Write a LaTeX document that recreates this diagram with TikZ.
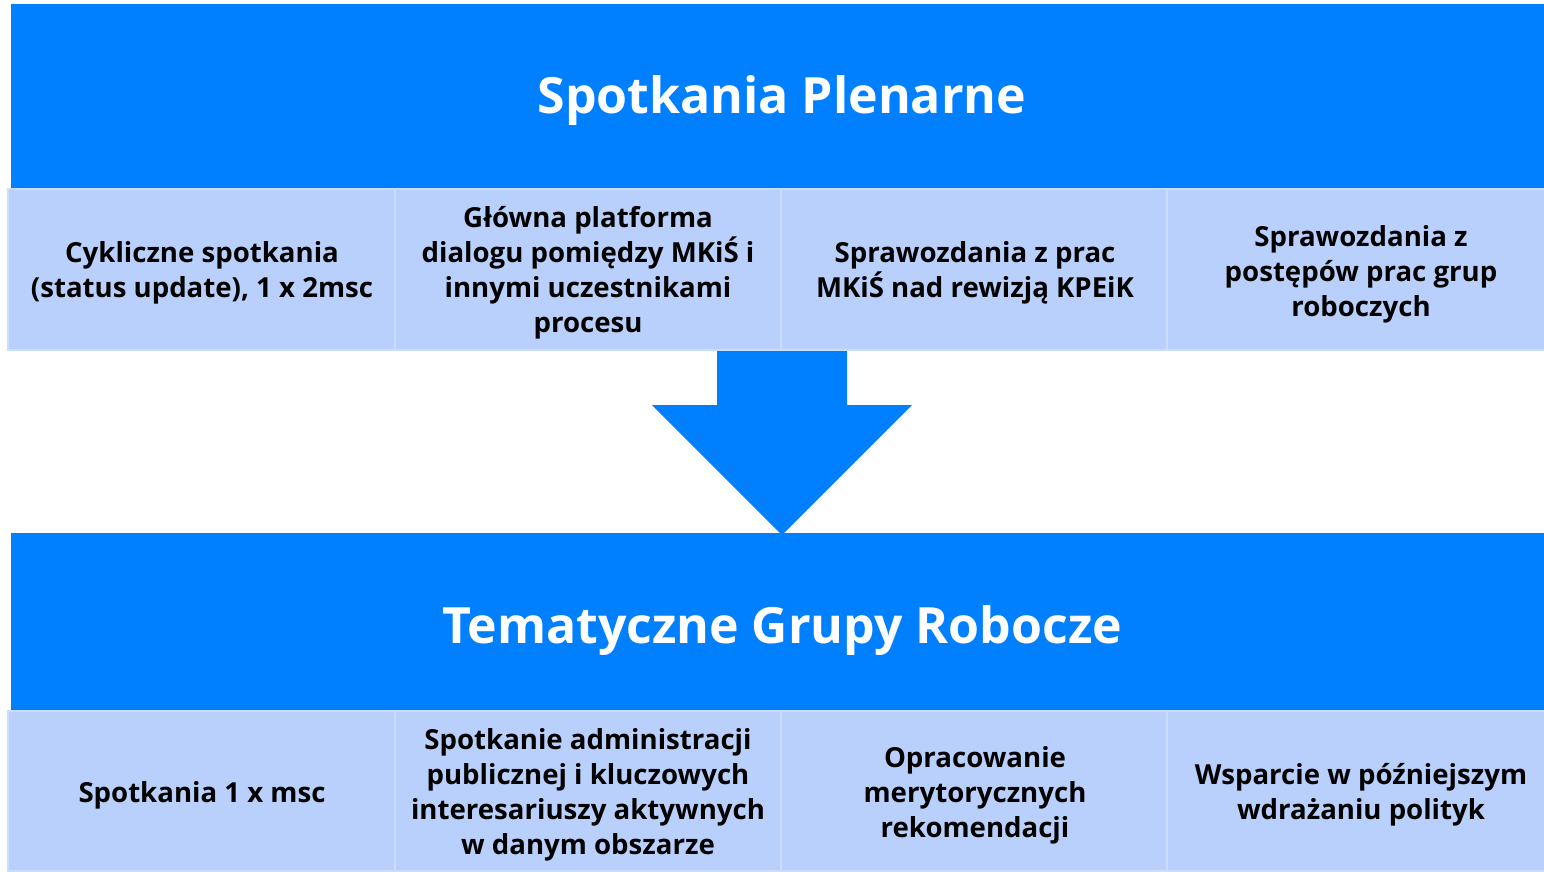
\documentclass[tikz,border=0pt]{standalone}
\usepackage{fontspec}
\setmainfont{Open Sans}
\definecolor{mainblue}{RGB}{0,128,255}
\definecolor{cellblue}{RGB}{184,208,251}
\definecolor{celledge}{RGB}{204,220,252}
\begin{document}
\begin{tikzpicture}[x=1pt,y=-1pt,
  banner/.style={fill=mainblue},
  cell/.style={fill=cellblue,draw=celledge,line width=2pt},
  celltext/.style={font=\fontsize{27.6}{35}\selectfont\bfseries,align=center,text=black,inner sep=0pt},
  titletext/.style={font=\fontsize{50}{60}\selectfont\bfseries,text=white,inner sep=0pt}]
\useasboundingbox (0,0) rectangle (1544,871);
% top banner
\fill[banner] (11,4) rectangle (1550,189);
\node[titletext] (t1) at (782,101) {Spotkania Plenarne};
% top cells
\draw[cell] (8,189) rectangle (395,350);
\draw[cell] (395,189) rectangle (781,350);
\draw[cell] (781,189) rectangle (1167,350);
\draw[cell] (1167,189) rectangle (1554,350);
\node[celltext] (a1) at (202,273) {Cykliczne spotkania\\(status update), 1 x 2msc};
\node[celltext] (a2) at (588,273) {Główna platforma\\dialogu pomiędzy MKiŚ i\\innymi uczestnikami\\procesu};
\node[celltext] (a3) at (975,273) {Sprawozdania z prac\\MKiŚ nad rewizją KPEiK};
\node[celltext] (a4) at (1361,274) {Sprawozdania z\\postępów prac grup\\roboczych};
% arrow
\fill[mainblue] (717,351) -- (847,351) -- (847,405) -- (912,405) -- (782,535) -- (652,405) -- (717,405) -- cycle;
% bottom banner
\fill[banner] (11,533) rectangle (1550,711);
\node[titletext] (t2) at (782,630) {Tematyczne Grupy Robocze};
% bottom cells
\draw[cell] (8,711) rectangle (395,871);
\draw[cell] (395,711) rectangle (781,871);
\draw[cell] (781,711) rectangle (1167,871);
\draw[cell] (1167,711) rectangle (1554,871);
\node[celltext] (b1) at (202,795) {Spotkania 1 x msc};
\node[celltext] (b2) at (588,795) {Spotkanie administracji\\publicznej i kluczowych\\interesariuszy aktywnych\\w danym obszarze};
\node[celltext] (b3) at (975,795) {Opracowanie\\merytorycznych\\rekomendacji};
\node[celltext] (b4) at (1361,795) {Wsparcie w późniejszym\\wdrażaniu polityk};
\end{tikzpicture}
\end{document}
